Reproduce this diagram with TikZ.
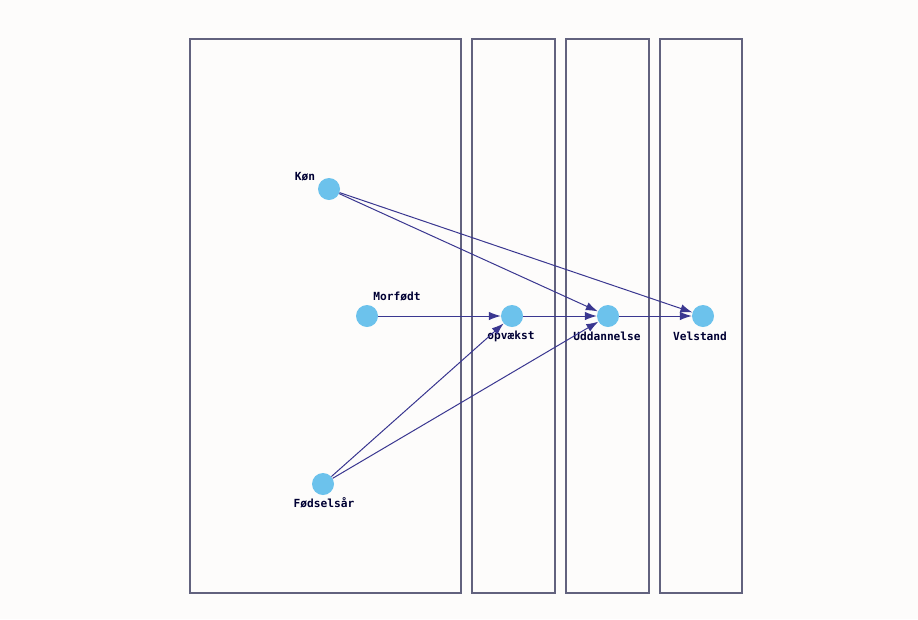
\documentclass[tikz,border=0pt]{standalone}
\usepackage{fontspec}
\setmonofont{DejaVu Sans Mono}
\usetikzlibrary{arrows.meta}
\definecolor{nodeblue}{HTML}{6CC2EC}
\definecolor{edgenavy}{HTML}{3A3790}
\definecolor{framegray}{HTML}{62627E}
\definecolor{paper}{HTML}{FDFCFB}
\tikzset{
  var/.style={circle, fill=nodeblue, draw=none, minimum size=22pt, inner sep=0pt},
  lbl/.style={font=\ttfamily\bfseries\fontsize{11.2}{13}\selectfont, text=black!80!blue, inner sep=0pt},
  arc/.style={draw=edgenavy, line width=1pt, -{Latex[length=12pt,width=8.5pt]}},
  frame/.style={draw=framegray, line width=1.1pt}
}
\begin{document}
\begin{tikzpicture}[x=1pt,y=-1pt]
\fill[paper] (0,0) rectangle (918,619);
\useasboundingbox (0,0) rectangle (918,619);
% column frames
\draw[frame] (190,39) rectangle (461,593);
\draw[frame] (472,39) rectangle (555,593);
\draw[frame] (566,39) rectangle (649,593);
\draw[frame] (660,39) rectangle (742,593);
% variables
\node[var] (kon) at (329,189) {};
\node[var] (morf) at (367,316) {};
\node[var] (fods) at (323,484) {};
\node[var] (opv) at (512,316) {};
\node[var] (udd) at (608,316) {};
\node[var] (vel) at (703,316) {};
% names
\node[lbl] at (305,177) {Køn};
\node[lbl] at (397,297) {Morfødt};
\node[lbl] at (324,503) {Fødselsår};
\node[lbl] at (511,336) {opvækst};
\node[lbl] at (607,336) {Uddannelse};
\node[lbl] at (700,336) {Velstand};
% dependencies
\draw[arc] (kon) -- (udd);
\draw[arc] (kon) -- (vel);
\draw[arc] (morf) -- (opv);
\draw[arc] (fods) -- (opv);
\draw[arc] (fods) -- (udd);
\draw[arc] (opv) -- (udd);
\draw[arc] (udd) -- (vel);
\end{tikzpicture}
\end{document}
